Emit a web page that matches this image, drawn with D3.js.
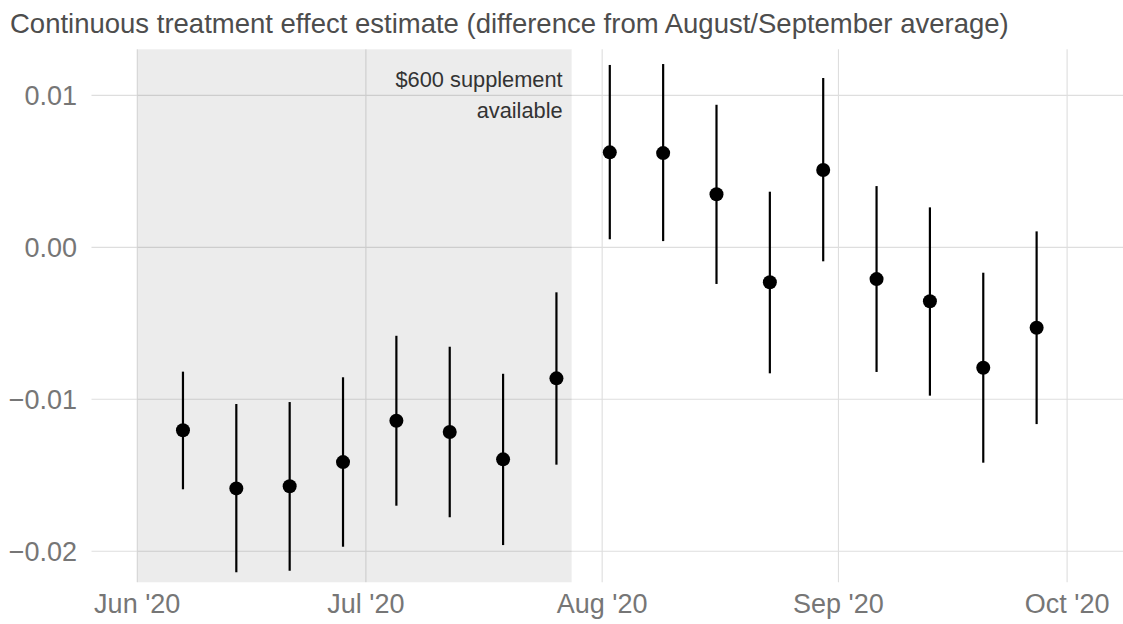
<!DOCTYPE html>
<html>
<head>
<meta charset="utf-8">
<script src="https://cdn.jsdelivr.net/npm/d3@7"></script>
<style>
  html, body { margin: 0; padding: 0; background: #fff; }
  svg { display: block; font-family: "Liberation Sans", Arial, Helvetica, sans-serif; }
</style>
</head>
<body>
<svg id="chart" width="1123" height="624"></svg>
<script>
// ---- data ----
const weeks = ["2020-06-07","2020-06-14","2020-06-21","2020-06-28","2020-07-05","2020-07-12","2020-07-19","2020-07-26",
               "2020-08-02","2020-08-09","2020-08-16","2020-08-23","2020-08-30","2020-09-06","2020-09-13","2020-09-20","2020-09-27"];
const estimate = [-0.01204,-0.01586,-0.01572,-0.01413,-0.01141,-0.01215,-0.01395,-0.00862,
                   0.00625, 0.00620, 0.00349,-0.00230, 0.00509,-0.00209,-0.00355,-0.00792,-0.00529];
const lower    = [-0.01592,-0.02138,-0.02128,-0.01970,-0.01700,-0.01776,-0.01959,-0.01430,
                   0.00053, 0.00041,-0.00241,-0.00829,-0.00092,-0.00820,-0.00976,-0.01417,-0.01163];
const upper    = [-0.00818,-0.01031,-0.01018,-0.00855,-0.00582,-0.00654,-0.00832,-0.00296,
                   0.01200, 0.01206, 0.00938, 0.00366, 0.01114, 0.00403, 0.00263,-0.00167, 0.00105];
const yTicks = [-0.02, -0.01, 0.00, 0.01];
const xTickDates = ["2020-06-01","2020-07-01","2020-08-01","2020-09-01","2020-10-01"];
const shadeStart = "2020-06-01";
const shadeEnd = "2020-07-28";
const shadeLabel = ["$600 supplement", "available"];
const title = "Continuous treatment effect estimate (difference from August/September average)";

// ---- layout ----
const parse = d3.utcParse("%Y-%m-%d");
const svg = d3.select("#chart");
const panel = { left: 91.5, right: 1123, top: 49.3, bottom: 582.3 };

const x = d3.scaleUtc()
  .domain([Date.UTC(2020, 4, 26), Date.UTC(2020, 9, 8, 8)])
  .range([panel.left, panel.right]);
const y = d3.scaleLinear()
  .domain([-0.02204, 0.01303])
  .range([panel.bottom, panel.top]);

const data = weeks.map((w, i) => ({ date: parse(w), est: estimate[i], lo: lower[i], hi: upper[i] }));

// gridlines
const grid = svg.append("g");
grid.selectAll("line.gy").data(yTicks).join("line")
  .attr("x1", panel.left).attr("x2", panel.right)
  .attr("y1", d => y(d)).attr("y2", d => y(d))
  .attr("stroke", "#dedede").attr("stroke-width", 1.1);
grid.selectAll("line.gx").data(xTickDates.map(parse)).join("line")
  .attr("x1", d => x(d)).attr("x2", d => x(d))
  .attr("y1", panel.top).attr("y2", panel.bottom)
  .attr("stroke", "#dedede").attr("stroke-width", 1.1);

// shaded region
svg.append("rect")
  .attr("x", x(parse(shadeStart)))
  .attr("width", x(parse(shadeEnd)) - x(parse(shadeStart)))
  .attr("y", panel.top).attr("height", panel.bottom - panel.top)
  .attr("fill", "#000").attr("fill-opacity", 0.0745);

// annotation
const ann = svg.append("text")
  .attr("x", x(parse(shadeEnd)) - 9)
  .attr("text-anchor", "end")
  .attr("fill", "#333")
  .style("font-size", "21.8px");
ann.selectAll("tspan").data(shadeLabel).join("tspan")
  .attr("x", x(parse(shadeEnd)) - 9)
  .attr("y", (d, i) => 86.7 + i * 31.6)
  .text(d => d);

// error bars
svg.append("g").selectAll("line").data(data).join("line")
  .attr("x1", d => x(d.date)).attr("x2", d => x(d.date))
  .attr("y1", d => y(d.lo)).attr("y2", d => y(d.hi))
  .attr("stroke", "#000").attr("stroke-width", 2.2);
// points
svg.append("g").selectAll("circle").data(data).join("circle")
  .attr("cx", d => x(d.date)).attr("cy", d => y(d.est))
  .attr("r", 7).attr("fill", "#000");

// y axis labels
const fmtY = v => (v < 0 ? "\u2212" : "") + Math.abs(v).toFixed(2);
svg.append("g").selectAll("text").data(yTicks).join("text")
  .attr("x", 77).attr("y", d => y(d)).attr("dy", "0.35em")
  .attr("text-anchor", "end").attr("fill", "#767676")
  .style("font-size", "27px")
  .text(fmtY);

// x axis labels
const fmtX = d3.utcFormat("%b '%y");
svg.append("g").selectAll("text").data(xTickDates.map(parse)).join("text")
  .attr("x", d => x(d)).attr("y", 613)
  .attr("text-anchor", "middle").attr("fill", "#767676")
  .style("font-size", "27px")
  .text(fmtX);

// title
svg.append("text")
  .attr("x", 10).attr("y", 33)
  .attr("fill", "#4d4d4d")
  .style("font-size", "27.5px")
  .text(title);
</script>
</body>
</html>
